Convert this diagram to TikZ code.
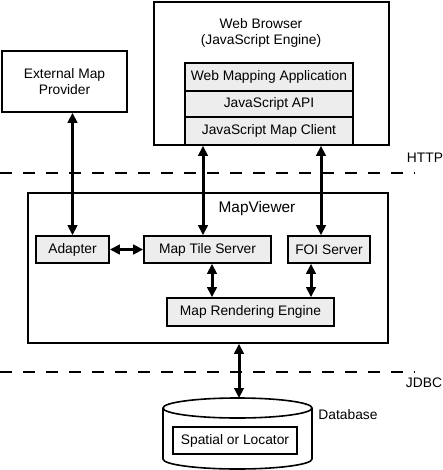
\documentclass[tikz,border=0pt]{standalone}
\usepackage{fontspec}
\setmainfont{Liberation Sans}
\usetikzlibrary{arrows.meta}
\begin{document}
\begin{tikzpicture}[x=1pt,y=-1pt,
  every node/.style={font=\fontsize{13.8}{16}\selectfont},
  box/.style={draw, line width=1.6pt, rectangle, inner sep=0pt, align=center},
  graybox/.style={box, fill=black!7},
  bi/.style={{Triangle[length=10pt,width=9.5pt]}-{Triangle[length=10pt,width=9.5pt]}, line width=3pt},
  sep/.style={dash pattern=on 12pt off 11pt, line width=1.8pt},
  lbl/.style={inner sep=0pt}
]
\useasboundingbox (0,0) rectangle (443,470);

% External map provider
\node[box, minimum width=125pt, minimum height=61pt] (emp) at (64.5,81.5) {External Map\\Provider};

% Web browser
\node[box, minimum width=235pt, minimum height=143pt] (wb) at (271.5,73.5) {};
\node[lbl, align=center] (wbt) at (261,33) {Web Browser\\(JavaScript Engine)};
\node[graybox, minimum width=168pt, minimum height=28pt] (wma) at (269,77) {Web Mapping Application};
\node[graybox, minimum width=168pt, minimum height=26pt] (jsapi) at (269,104) {JavaScript API};
\node[graybox, minimum width=168pt, minimum height=28pt] (jsmc) at (269,131) {JavaScript Map Client};

% HTTP separator
\coordinate (h1) at (0,173);
\coordinate (h2) at (415,173);
\draw[sep] (h1) -- (h2);
\node[lbl] (http) at (425,158) {HTTP};

% MapViewer
\node[box, minimum width=360pt, minimum height=150pt] (mv) at (208,268) {};
\node[lbl, font=\fontsize{15.4}{18}\selectfont] (mvt) at (257,209) {MapViewer};
\node[graybox, minimum width=73pt, minimum height=27pt] (adapter) at (72.5,249.5) {Adapter};
\node[graybox, minimum width=127pt, minimum height=27pt] (mts) at (207.5,249.5) {Map Tile Server};
\node[graybox, minimum width=82pt, minimum height=27pt] (foi) at (329,249.5) {FOI Server};
\node[graybox, minimum width=167pt, minimum height=28pt] (mre) at (250.5,312) {Map Rendering Engine};

% JDBC separator
\coordinate (j1) at (0,372);
\coordinate (j2) at (415,372);
\draw[sep] (j1) -- (j2);
\node[lbl] (jdbc) at (424,383) {JDBC};

% Database cylinder
\draw[line width=1.6pt, fill=white] (163,408) -- (163,459)
  arc[start angle=180, end angle=360, x radius=74.5pt, y radius=10pt] -- (312,408);
\draw[line width=1.6pt, fill=white] (237.5,408) ellipse [x radius=74.5pt, y radius=10pt];
\coordinate (dbtop) at (239,398);
\node[box, fill=white, minimum width=124pt, minimum height=27pt] (spatial) at (235,440.5) {Spatial or Locator};
\node[lbl] (dbl) at (348,415) {Database};

% Connectors
\draw[bi] (adapter.north) -- (adapter.north |- emp.south);
\draw[bi] ([xshift=-4.5pt]mts.north) -- ([xshift=-4.5pt]mts.north |- wb.south);
\draw[bi] ([xshift=-8pt]foi.north) -- ([xshift=-8pt]foi.north |- wb.south);
\draw[bi] (adapter.east) -- (mts.west);
\draw[bi] ([xshift=4.5pt]mts.south) -- ([xshift=4.5pt]mts.south |- mre.north);
\draw[bi] ([xshift=-18pt]foi.south) -- ([xshift=-18pt]foi.south |- mre.north);
\draw[bi] (dbtop) -- (dbtop |- mv.south);
\end{tikzpicture}
\end{document}
